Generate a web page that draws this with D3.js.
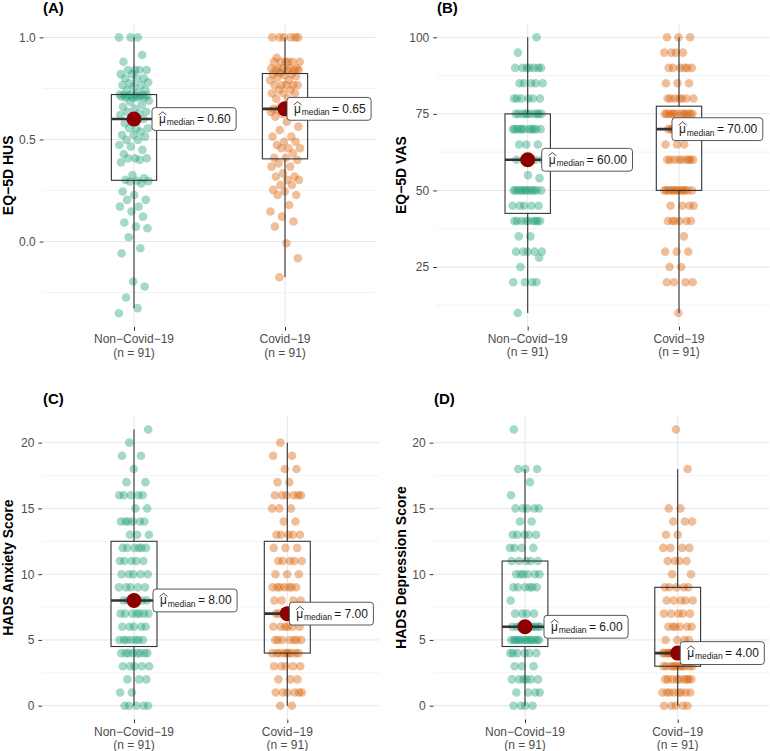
<!DOCTYPE html>
<html><head><meta charset="utf-8">
<script src="https://cdn.jsdelivr.net/npm/d3@7"></script>
<style>body{margin:0;background:#fff}svg{display:block;font-family:"Liberation Sans",Arial,Helvetica,sans-serif}</style>
</head><body><svg id="chart" width="770" height="751"></svg>
<script>
// ---------- data ----------
const groupLabels = ["Non\u2212Covid\u221219", "Covid\u221219"];
const groupN = [91, 91];
const panelTags = ["(A)", "(B)", "(C)", "(D)"];
const yTitles = ["EQ\u22125D HUS", "EQ\u22125D VAS", "HADS Anxiety Score", "HADS Depression Score"];

const tickLabelsA = ["0.0", "0.5", "1.0"];
const tickLabelsB = ["25", "50", "75", "100"];
const tickLabelsCD = ["0", "5", "10", "15", "20"];

// Panel A: EQ-5D HUS (individual values)
const husNonCovid = [-0.351,-0.326,-0.274,-0.22,-0.196,-0.057,-0.033,0.021,0.065,0.073,0.093,0.122,0.147,0.171,0.171,0.204,0.204,0.228,0.245,0.285,0.294,0.296,0.298,
 0.302,0.31,0.326,0.388,0.40,0.408,0.408,0.408,0.429,0.449,0.465,0.473,0.498,0.498,0.514,0.522,0.522,0.538,0.555,0.555,0.555,0.58,
 0.60,
 0.607,0.62,0.628,0.636,0.636,0.652,0.66,0.669,0.685,0.69,0.705,0.705,0.705,0.705,0.71,0.712,0.714,0.716,0.716,0.718,0.718,0.72,
 0.72,0.73,0.742,0.742,0.76,0.767,0.767,0.775,0.78,0.80,0.80,0.80,0.82,0.82,0.84,0.84,0.84,0.84,0.881,0.914,1.0,1.0,1.0];
const husCovid = [-0.175,-0.082,-0.008,0.073,0.098,0.122,0.147,0.179,0.228,0.228,0.245,0.253,0.277,0.277,0.302,0.302,0.318,0.318,0.334,0.367,0.367,0.383,0.40,
 0.41,0.41,0.432,0.457,0.457,0.457,0.473,0.489,0.489,0.514,0.514,0.546,0.563,0.587,0.612,0.612,0.625,0.635,0.644,0.644,0.648,0.65,
 0.65,
 0.661,0.661,0.685,0.70,0.70,0.726,0.726,0.726,0.742,0.742,0.767,0.767,0.767,0.767,0.767,0.79,0.79,0.804,0.81,0.815,0.82,0.82,
 0.826,0.84,0.84,0.84,0.84,0.848,0.848,0.848,0.848,0.848,0.881,0.881,0.881,0.881,0.881,0.881,0.9,1.0,1.0,1.0,1.0,1.0,1.0];

// Panels B-D: integer scores as [value, count]
const vasNonCovid = [[10,1],[20,4],[25,1],[28,1],[30,5],[35,2],[40,9],[45,5],[50,12],[54,1],[55,1],[60,5],[65,3],[70,11],[75,10],[80,6],[85,5],[90,7],[95,1],[100,1]];
const vasCovid = [[10,1],[20,4],[25,2],[30,3],[35,1],[40,6],[45,4],[50,12],[60,9],[65,3],[70,11],[75,12],[80,7],[85,3],[90,6],[95,4],[100,3]];
const anxNonCovid = [[0,5],[1,2],[2,3],[3,5],[4,8],[5,7],[6,5],[7,7],[8,5],[9,5],[10,5],[11,5],[12,6],[13,3],[14,6],[15,2],[16,5],[17,2],[18,1],[19,2],[20,1],[21,1]];
const anxCovid = [[0,2],[1,6],[2,3],[3,5],[4,9],[5,7],[6,6],[7,8],[8,4],[9,7],[10,3],[11,5],[12,3],[13,5],[14,2],[15,3],[16,6],[17,2],[18,2],[19,2],[20,1]];
const depNonCovid = [[0,4],[1,4],[2,6],[3,3],[4,6],[5,13],[6,11],[7,4],[8,1],[9,6],[10,6],[11,5],[12,4],[13,5],[14,2],[15,5],[16,1],[17,1],[18,3],[21,1]];
const depCovid = [[0,5],[1,8],[2,9],[3,11],[4,14],[5,4],[6,6],[7,5],[8,5],[9,5],[10,2],[11,4],[12,4],[13,2],[14,3],[15,2],[18,1],[21,1]];

// ---------- layout / style ----------
const expand = f => f.flatMap(([v, c]) => Array(c).fill(v));
const colors = ["#1B9E77", "#D95F02"];
const panels = [
  {tag:panelTags[0], title:yTitles[0], data:[husNonCovid, husCovid], ticks:[0,0.5,1], tickLabels:tickLabelsA, minor:[-0.25,0.25,0.75], fmt:d3.format(".2f"),
   cx:[134,285], y0:23.6, y1:327.0, tagX:43, tagY:12.5, titleX:13, lblDx:[18,2]},
  {tag:panelTags[1], title:yTitles[1], data:[expand(vasNonCovid), expand(vasCovid)], ticks:[25,50,75,100], tickLabels:tickLabelsB, minor:[12.5,37.5,62.5,87.5], fmt:d3.format(".2f"),
   cx:[527.7,679], y0:23.5, y1:326.7, tagX:437, tagY:12.5, titleX:406, lblDx:[14,-7]},
  {tag:panelTags[2], title:yTitles[2], data:[expand(anxNonCovid), expand(anxCovid)], ticks:[0,5,10,15,20], tickLabels:tickLabelsCD, minor:[2.5,7.5,12.5,17.5], fmt:d3.format(".2f"),
   cx:[134,287.3], y0:415.7, y1:719.5, tagX:43, tagY:404, titleX:13, lblDx:[19,2]},
  {tag:panelTags[3], title:yTitles[3], data:[expand(depNonCovid), expand(depCovid)], ticks:[0,5,10,15,20], tickLabels:tickLabelsCD, minor:[2.5,7.5,12.5,17.5], fmt:d3.format(".2f"),
   cx:[525,677.7], y0:415.7, y1:719.5, tagX:434, tagY:404, titleX:406, lblDx:[19,2.5]}
];

const svg = d3.select("#chart");

panels.forEach((p, pi) => {
  const unit = p.cx[1] - p.cx[0];
  const x = d3.scaleLinear().domain([1, 2]).range(p.cx);
  const left = x(0.4), right = x(2.6);
  const all = p.data.flat();
  const [mn, mx] = d3.extent(all);
  const pad = (mx - mn) * 0.05;
  const y = d3.scaleLinear().domain([mn - pad, mx + pad]).range([p.y1, p.y0]);
  const g = svg.append("g");

  // grid
  g.selectAll(".mn").data(p.minor).join("line")
    .attr("x1", left).attr("x2", right).attr("y1", d => y(d)).attr("y2", d => y(d))
    .attr("stroke", "#f0f0f0").attr("stroke-width", 0.8);
  g.selectAll(".mj").data(p.ticks).join("line")
    .attr("x1", left).attr("x2", right).attr("y1", d => y(d)).attr("y2", d => y(d))
    .attr("stroke", "#e6e6e6").attr("stroke-width", 1);
  g.selectAll(".vg").data([1, 2]).join("line")
    .attr("x1", d => x(d)).attr("x2", d => x(d)).attr("y1", p.y0).attr("y2", p.y1)
    .attr("stroke", "#e6e6e6").attr("stroke-width", 1);

  // y axis
  const ya = g.append("g").attr("transform", `translate(${left},0)`)
    .call(d3.axisLeft(y).tickValues(p.ticks).tickSize(3.7).tickPadding(4)
      .tickFormat((d, i) => p.tickLabels[i]));
  ya.select(".domain").remove();
  ya.selectAll("line").attr("stroke", "#333");
  ya.selectAll("text").attr("fill", "#4d4d4d").attr("font-size", 12)
    .attr("font-family", "Liberation Sans, Arial, sans-serif");

  // x axis
  const xa = g.append("g").attr("transform", `translate(0,${p.y1})`)
    .call(d3.axisBottom(x).tickValues([1, 2]).tickSize(3.7).tickFormat(""));
  xa.select(".domain").remove();
  xa.selectAll("line").attr("stroke", "#333");
  [1, 2].forEach((c, i) => {
    const t = g.append("text").attr("x", x(c)).attr("y", p.y1 + 16).attr("text-anchor", "middle")
      .attr("font-size", 12).attr("fill", "#4d4d4d");
    t.append("tspan").attr("x", x(c)).text(groupLabels[i]);
    t.append("tspan").attr("x", x(c)).attr("dy", 13.5).text(`(n = ${groupN[i]})`);
  });

  // titles
  svg.append("text").attr("x", p.tagX).attr("y", p.tagY).attr("font-size", 15).attr("font-weight", "bold")
    .attr("fill", "#000").text(p.tag);
  svg.append("text").attr("transform", `translate(${p.titleX},${(p.y0 + p.y1) / 2}) rotate(-90)`)
    .attr("text-anchor", "middle").attr("font-size", 14).attr("font-weight", "bold").attr("fill", "#000").text(p.title);

  const stats = p.data.map(arr => {
    const s = arr.slice().sort(d3.ascending);
    const q1 = d3.quantileSorted(s, 0.25), q3 = d3.quantileSorted(s, 0.75), med = d3.quantileSorted(s, 0.5);
    const iqr = q3 - q1;
    const lo = d3.min(s.filter(v => v >= q1 - 1.5 * iqr));
    const hi = d3.max(s.filter(v => v <= q3 + 1.5 * iqr));
    return {s, q1, q3, med, lo, hi};
  });

  // points (jittered horizontally)
  stats.forEach((st, gi) => {
    g.append("g").selectAll("circle").data(st.s).join("circle")
      .attr("cx", (d, i) => x(gi + 1) + ((((i * 0.6180339887) + gi * 0.31 + pi * 0.17) % 1) - 0.5) * 2 * 0.1 * unit)
      .attr("cy", d => y(d)).attr("r", 4.3)
      .attr("fill", colors[gi]).attr("fill-opacity", 0.4);
  });

  // boxes
  const bw = 0.3 * unit;
  stats.forEach((st, gi) => {
    const cx = x(gi + 1);
    g.append("line").attr("x1", cx).attr("x2", cx).attr("y1", y(st.q3)).attr("y2", y(st.hi)).attr("stroke", "#333").attr("stroke-width", 1.1);
    g.append("line").attr("x1", cx).attr("x2", cx).attr("y1", y(st.q1)).attr("y2", y(st.lo)).attr("stroke", "#333").attr("stroke-width", 1.1);
    g.append("rect").attr("x", cx - bw / 2).attr("width", bw).attr("y", y(st.q3)).attr("height", y(st.q1) - y(st.q3))
      .attr("fill", "none").attr("stroke", "#333").attr("stroke-width", 1.1);
    g.append("line").attr("x1", cx - bw / 2).attr("x2", cx + bw / 2).attr("y1", y(st.med)).attr("y2", y(st.med))
      .attr("stroke", "#333").attr("stroke-width", 2.6);
  });

  // centrality
  stats.forEach((st, gi) => {
    const cx = x(gi + 1), cy = y(st.med);
    g.append("circle").attr("cx", cx).attr("cy", cy).attr("r", 7.5).attr("fill", "#8B0000");
  });
  stats.forEach((st, gi) => {
    const cx = x(gi + 1), cy = y(st.med);
    const L = cx + p.lblDx[gi];
    const lg = g.append("g");
    const padX = 7;
    const t = lg.append("text").attr("x", L + padX).attr("y", cy + 4).attr("font-size", 12).attr("fill", "#1a1a1a");
    t.append("tspan").text("\u03BC");
    t.append("tspan").attr("font-size", 8.5).attr("dy", 2.4).attr("dx", 0.8).text("median");
    t.append("tspan").attr("dy", -2.4).attr("dx", 2.3).text("= " + p.fmt(st.med));
    const w = t.node().getComputedTextLength() + 3.1;
    const mw = t.node().getSubStringLength(0, 1);
    lg.insert("rect", "text").attr("x", L).attr("y", cy - 11.4).attr("width", w + padX + 5.5).attr("height", 22.8)
      .attr("rx", 3).attr("fill", "#fff").attr("stroke", "#444").attr("stroke-width", 0.9);
    const hx = L + padX - 0.3, hy = cy - 7.2;
    lg.append("path").attr("d", `M${hx},${hy + 3.3}L${hx + (mw + 1) / 2},${hy}L${hx + mw + 1},${hy + 3.3}`)
      .attr("fill", "none").attr("stroke", "#1a1a1a").attr("stroke-width", 0.8);
  });
});
</script></body></html>
